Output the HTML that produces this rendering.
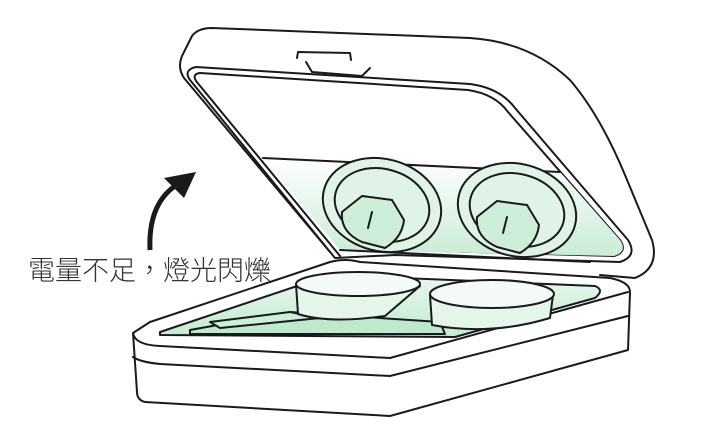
<!DOCTYPE html>
<html><head><meta charset="utf-8"><style>
html,body{margin:0;padding:0;background:#fff;width:720px;height:436px;overflow:hidden}
svg{display:block}
</style></head><body>
<svg width="720" height="436" viewBox="0 0 720 436" xmlns="http://www.w3.org/2000/svg">
<defs>
<linearGradient id="g1" x1="0" y1="0" x2="0" y2="1">
<stop offset="0" stop-color="#fff"/><stop offset="1" stop-color="#c9ecd6"/></linearGradient>
<linearGradient id="g2" x1="0" y1="0" x2="0" y2="1">
<stop offset="0" stop-color="#e9f7ee"/><stop offset="1" stop-color="#c3ebd0"/></linearGradient>
</defs>
<g fill="none" stroke="#1a1a1a" stroke-width="2" stroke-linejoin="round" stroke-linecap="round">
<!-- lid outer -->
<path d="M330,252 L184,78 Q176,66 184,52 L192,36 Q198,28 212,28 L470,38 Q530,42 570,80 Q600,115 625,175 L652,240 Q660,268 635,278 L600,275" fill="#fff"/>
<!-- lid inner frame -->
<path d="M335,258 L190,80 Q183,70 196,67 L470,84 Q500,88 515,108 L628,240 Q638,256 620,262 L395,255 Z" fill="#fff"/>
<path d="M340,256 L196,81 Q192,74 200,73 L468,90 Q495,94 508,112 L620,240 Q628,252 614,256 L400,250"/>
<!-- green inside lid -->
<path d="M263,158 L560,172 L620,240 Q628,252 614,256 L340,250 Z" fill="url(#g1)" stroke="none"/>
<line x1="263" y1="158" x2="560" y2="172"/>
<line x1="340" y1="250" x2="590" y2="262"/>
<!-- tab -->
<path d="M297,58 L298,52 L350,53 L351,60"/>
<path d="M306,62 L312,72 L362,76 L370,68"/>
<!-- lid discs -->
<g fill="#dff3e6">
<ellipse cx="382" cy="205" rx="60" ry="46" transform="rotate(15 382 205)"/>
<ellipse cx="382" cy="205" rx="48" ry="36" transform="rotate(15 382 205)"/>
<ellipse cx="517" cy="210" rx="60" ry="46" transform="rotate(15 517 210)"/>
<ellipse cx="517" cy="210" rx="48" ry="36" transform="rotate(15 517 210)"/>
</g>
<g fill="#cdeed8">
<path d="M342,212 Q340,232 362,242 L385,248 Q402,238 404,220 L392,200 L362,196 Z"/>
<path d="M477,217 Q475,237 497,247 L520,253 Q537,243 539,225 L527,205 L497,201 Z"/>
</g>
<line x1="372" y1="212" x2="368" y2="228"/>
<line x1="507" y1="217" x2="503" y2="233"/>
<!-- base -->
<path d="M133,333 L150,322 L330,262 Q345,258 360,262 L610,278 Q630,282 630,292 L628,350 L390,416 L145,402 Q137,400 137,392 Z" fill="#fff"/>
<path d="M133,357 Q140,362 160,364 L390,376 L628,316"/>
<path d="M133,333 Q135,345 160,346 L390,358 L628,292"/>
<!-- tray -->
<path d="M160,332 L330,275 L595,286 Q605,290 595,298 L455,337 L160,335 Z" fill="url(#g2)"/>
<path d="M190,330 L290,312 L440,322 L445,334 L190,334 Z" fill="#bfe9cc"/>
<path d="M210,322 L290,312 L320,318 L220,328 Z" fill="#cdeed8"/>
<!-- cups -->
<path d="M296,284 L298,314 Q330,324 385,316 L420,286" fill="#e4f6ea"/>
<ellipse cx="358" cy="284" rx="62" ry="12" fill="#f4fbf6"/>
<path d="M430,295 L432,325 Q490,336 550,318 L553,295" fill="#e4f6ea"/>
<ellipse cx="492" cy="294" rx="62" ry="14" fill="#f4fbf6"/>
</g>
<!-- arrow -->
<path d="M150,250 Q148,205 175,186" fill="none" stroke="#1a1a1a" stroke-width="5"/>
<path d="M196,172 L164,178 L184,198 Z" fill="#1a1a1a"/>
<text x="28" y="280" font-family="'Liberation Sans','Noto Sans CJK TC',sans-serif" font-size="27" font-weight="300" fill="#333">電量不足，燈光閃爍</text>
</svg>
</body></html>
